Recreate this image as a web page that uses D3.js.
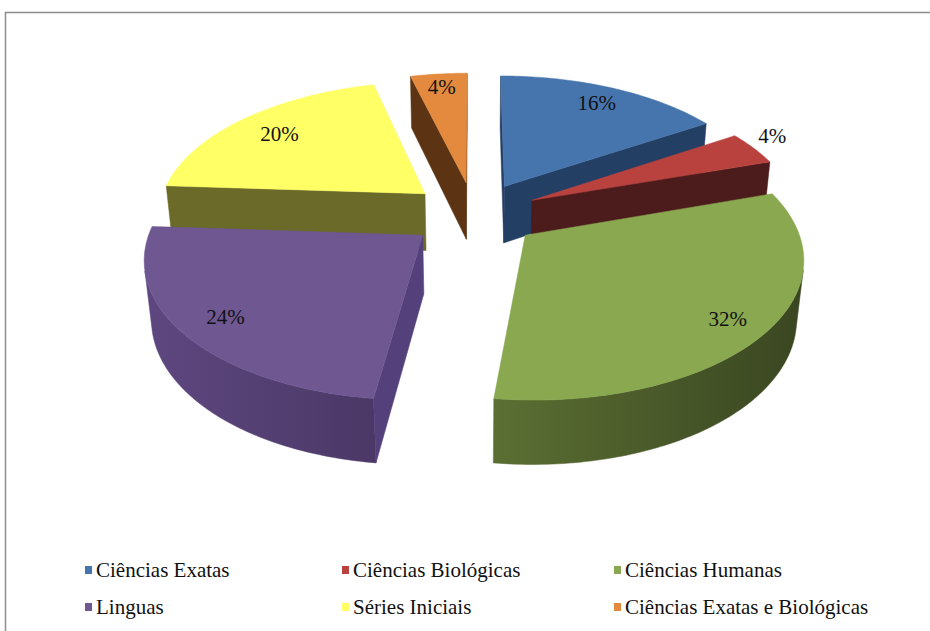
<!DOCTYPE html>
<html>
<head>
<meta charset="utf-8">
<script src="https://cdn.jsdelivr.net/npm/d3@7"></script>
<style>
  body { margin: 0; background: #fff; }
  svg { display: block; }
  text { font-family: "Liberation Serif", "Times New Roman", Tinos, "DejaVu Serif", serif; }
</style>
</head>
<body>
<svg id="chart" width="930" height="631"></svg>
<script>
// ---- data ----
const categories = ["Ciências Exatas", "Ciências Biológicas", "Ciências Humanas", "Linguas", "Séries Iniciais", "Ciências Exatas e Biológicas"];
const values = [16, 4, 32, 24, 20, 4];
const percentLabels = ["16%", "4%", "32%", "24%", "20%", "4%"];

// ---- styles ----
const topColors  = ["#4674AC", "#B9423F", "#89A84F", "#6F5792", "#FFFF66", "#E38A3E"];
const cutColors  = ["#243F64", "#4C1B1B", "#4A5A2A", "#54407A", "#6B6A28", "#5C3413"];
const wallLight  = ["#2E507E", "#5A2222", "#5B6F33", "#5E4780", "#7A7930", "#6A3C16"];
const wallDark   = ["#1F3757", "#401616", "#3A4621", "#4B3866", "#5A5920", "#4A2A0E"];
// where each percentage label sits: radius as a fraction of R, angle as a fraction across the slice
const labelRadius = [0.84, 1.13, 0.86, 0.84, 0.79, 0.87];
const labelAngle  = [0.5, 0.3, 0.5, 0.5, 0.5, 0.5];

// ---- 3D layout ----
const cx = 474, cy = 214;        // screen position of the pie's top-face centre
const R = 268, depth = 68;       // radius and thickness in model units
const explode = 65;              // how far each slice is pulled out
const focal = 1590;              // perspective distance
const tilt = 30 * Math.PI / 180; // viewing elevation
const sT = Math.sin(tilt), cT = Math.cos(tilt);
const camera = [0, focal * sT, -focal * cT];

function project(x, y, z) {
  const yv = y * cT + z * sT;
  const dv = z * cT - y * sT;
  const k = focal / (focal + dv);
  return [cx + x * k, cy - yv * k];
}

const svg = d3.select("#chart");

// frame
svg.append("rect")
  .attr("x", 5.5).attr("y", 12.5)
  .attr("width", 940).attr("height", 640)
  .attr("fill", "none")
  .attr("stroke", "#8c8c8c")
  .attr("stroke-width", 1.5);

const pie = d3.pie().sort(null).startAngle(0).endAngle(2 * Math.PI);
const arcs = pie(values).map((d, i) => {
  const mid = (d.startAngle + d.endAngle) / 2;
  return { ...d, i, mid, ox: explode * Math.sin(mid), oz: explode * Math.cos(mid) };
});

const line = d3.line().curve(d3.curveLinear);
const defs = svg.append("defs");
const pieG = svg.append("g");

function rimPoint(a, t, y) {
  return [a.ox + R * Math.sin(t), y, a.oz + R * Math.cos(t)];
}
function facing(normal, p) {
  return normal[0] * (camera[0] - p[0]) + normal[1] * (camera[1] - p[1]) + normal[2] * (camera[2] - p[2]) > 0;
}

// draw from back to front
const order = arcs.slice().sort((a, b) => Math.cos(b.mid) - Math.cos(a.mid));

order.forEach(a => {
  const g = pieG.append("g");
  const steps = Math.max(4, Math.ceil((a.endAngle - a.startAngle) / (Math.PI / 180)));
  const ts = d3.range(steps + 1).map(j => a.startAngle + (a.endAngle - a.startAngle) * j / steps);

  // outer curved wall: visible runs only
  const vis = ts.map(t => facing([Math.sin(t), 0, Math.cos(t)], rimPoint(a, t, -depth / 2)));
  let runs = [], cur = [];
  ts.forEach((t, j) => {
    if (vis[j]) cur.push(t);
    else if (cur.length) { runs.push(cur); cur = []; }
  });
  if (cur.length) runs.push(cur);
  runs.forEach((run, r) => {
    if (run.length < 2) return;
    const top = run.map(t => project(...rimPoint(a, t, 0)));
    const bot = run.slice().reverse().map(t => project(...rimPoint(a, t, -depth)));
    const pts = top.concat(bot);
    const xs = pts.map(p => p[0]);
    const gid = `wall-${a.i}-${r}`;
    const grad = defs.append("linearGradient").attr("id", gid)
      .attr("gradientUnits", "userSpaceOnUse")
      .attr("x1", d3.min(xs)).attr("x2", d3.max(xs)).attr("y1", 0).attr("y2", 0);
    grad.append("stop").attr("offset", 0).attr("stop-color", wallLight[a.i]);
    grad.append("stop").attr("offset", 1).attr("stop-color", wallDark[a.i]);
    g.append("path").attr("d", line(pts) + "Z")
      .attr("fill", `url(#${gid})`).attr("stroke", `url(#${gid})`).attr("stroke-width", 0.5);
  });

  // radial cut faces
  const faces = [
    { t: a.startAngle, n: [-Math.cos(a.startAngle), 0, Math.sin(a.startAngle)] },
    { t: a.endAngle,   n: [Math.cos(a.endAngle), 0, -Math.sin(a.endAngle)] }
  ];
  faces.forEach(f => {
    const mid = rimPoint(a, f.t, -depth / 2);
    const centre = [(mid[0] + a.ox) / 2, -depth / 2, (mid[2] + a.oz) / 2];
    if (!facing(f.n, centre)) return;
    const pts = [
      project(a.ox, 0, a.oz),
      project(...rimPoint(a, f.t, 0)),
      project(...rimPoint(a, f.t, -depth)),
      project(a.ox, -depth, a.oz)
    ];
    g.append("path").attr("d", line(pts) + "Z")
      .attr("fill", cutColors[a.i]).attr("stroke", cutColors[a.i]).attr("stroke-width", 0.5);
  });

  // top face
  const topPts = [project(a.ox, 0, a.oz)].concat(ts.map(t => project(...rimPoint(a, t, 0))));
  g.append("path").attr("d", line(topPts) + "Z")
    .attr("fill", topColors[a.i]).attr("stroke", topColors[a.i]).attr("stroke-width", 0.5);
});

// percentage labels
svg.append("g").selectAll("text").data(arcs).join("text")
  .attr("transform", a => {
    const r = R * labelRadius[a.i];
    const t = a.startAngle + (a.endAngle - a.startAngle) * labelAngle[a.i];
    const p = project(a.ox + r * Math.sin(t), 0, a.oz + r * Math.cos(t));
    return `translate(${p[0]},${p[1]})`;
  })
  .attr("text-anchor", "middle")
  .attr("dy", "0.35em")
  .attr("font-size", 21)
  .attr("fill", "#111")
  .text(a => percentLabels[a.i]);

// legend: three columns, two rows
const legendCols = [85, 342, 614];
const rowY = d3.scalePoint().domain([0, 1]).range([570, 607]);
const legend = svg.append("g").selectAll("g").data(categories).join("g")
  .attr("transform", (d, i) => `translate(${legendCols[i % 3]},${rowY(Math.floor(i / 3))})`);
legend.append("rect")
  .attr("x", 0).attr("y", -4).attr("width", 7).attr("height", 8)
  .attr("fill", (d, i) => topColors[i]);
legend.append("text")
  .attr("x", 11).attr("dy", "0.35em")
  .attr("font-size", 21)
  .attr("fill", "#111")
  .text(d => d);
</script>
</body>
</html>
